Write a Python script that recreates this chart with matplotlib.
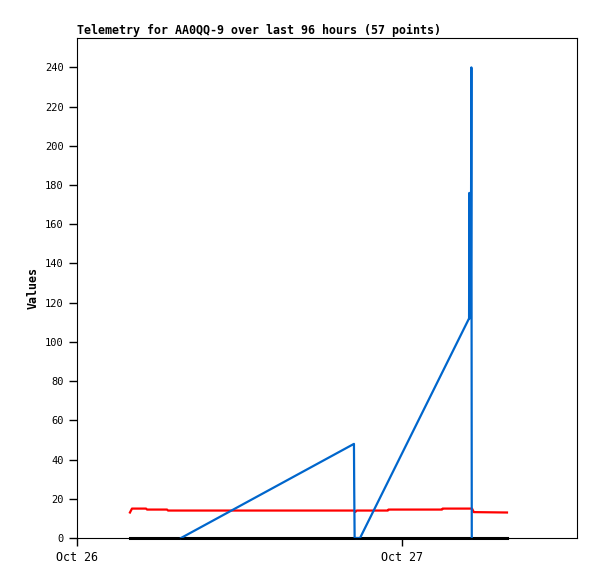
from datetime import datetime, timedelta

import matplotlib
matplotlib.use("Agg")
from matplotlib import pyplot as plt
import matplotlib.dates as mdates

# hours after Oct 26 00:00 and values for each series
start = datetime(2023, 10, 26)

red_hours = [3.91, 4.06, 5.1, 5.17, 6.65, 6.72, 20.5, 20.55, 20.65, 22.95, 23.0, 26.95, 27.0, 29.17, 29.3, 31.75]
red_vals = [13, 15, 15, 14.5, 14.5, 14, 14, 13.3, 14, 14, 14.5, 14.5, 15, 15, 13.2, 13]

black_hours = [3.91, 31.75]
black_vals = [0, 0]

blue_hours = [7.68, 20.45, 20.47, 20.5, 20.9, 28.95, 28.97, 29.0, 29.08, 29.12, 29.15]
blue_vals = [0, 48, 25, 0, 0, 112, 176, 112, 121, 240, 0]

x_start_hours = 0
x_end_hours = 36.92


def to_dates(hours):
    """Turn hour offsets into datetimes"""
    return [start + timedelta(hours=h) for h in hours]


plt.rcParams['font.family'] = ['DejaVu Sans Mono']
fig = plt.figure(figsize=(5.97, 5.79), dpi=100)
ax = fig.add_axes([77 / 597, 41 / 579, 500 / 597, 500 / 579])

ax.plot(to_dates(black_hours), black_vals, color="black", linewidth=2.2, clip_on=False)
ax.plot(to_dates(red_hours), red_vals, color="#ff0000", linewidth=1.6)
ax.plot(to_dates(blue_hours), blue_vals, color="#0066cc", linewidth=1.6, clip_on=False)

ax.set_xlim(start + timedelta(hours=x_start_hours), start + timedelta(hours=x_end_hours))
ax.set_ylim(0, 255)
ax.set_yticks(range(0, 241, 20))
ax.xaxis.set_major_locator(mdates.DayLocator())
ax.xaxis.set_major_formatter(mdates.DateFormatter('%b %d'))
ax.tick_params(length=6, width=1, direction='out')
ax.tick_params(axis='x', labelsize=8.4)
ax.tick_params(axis='y', labelsize=7.5)

ax.set_ylabel("Values", fontsize=8.4, fontweight='bold')
ax.set_title("Telemetry for AA0QQ-9 over last 96 hours (57 points)",
             loc='left', fontsize=8.4, fontweight='bold', pad=3)

plt.savefig("out.png", dpi=100)
